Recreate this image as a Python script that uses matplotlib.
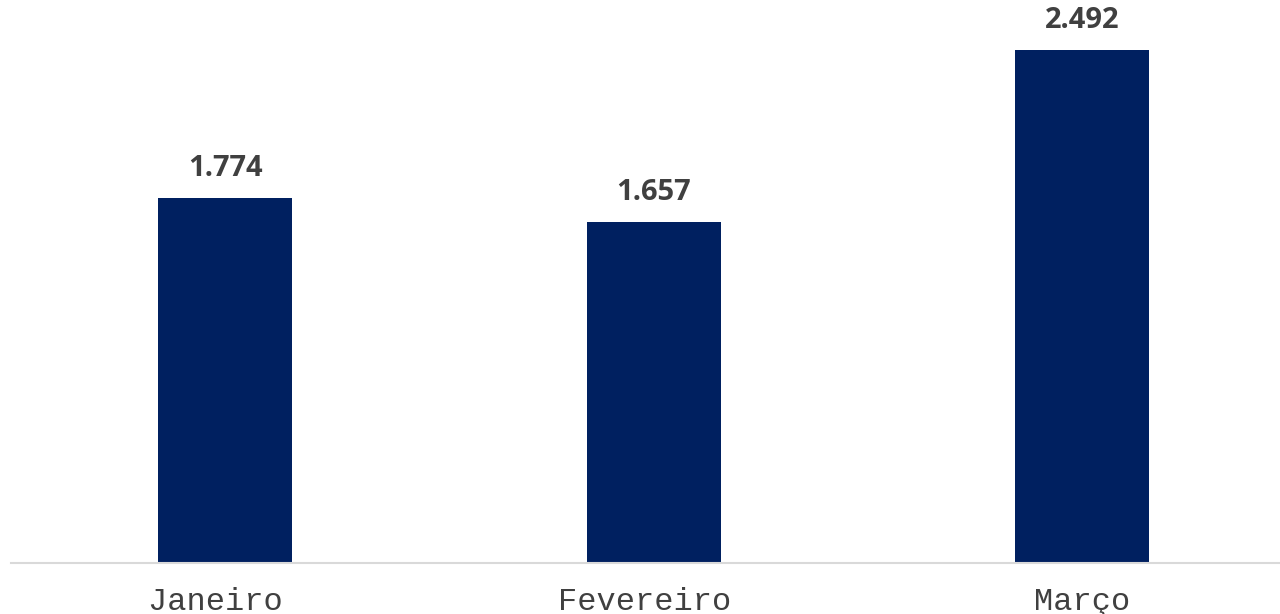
import matplotlib.pyplot as plt

# os dois primeiros rótulos têm um espaço no fim, como no original
meses = ["Janeiro ", "Fevereiro ", "Março"]
valores = [1.774, 1.657, 2.492]
rotulos = ["1.774", "1.657", "2.492"]

fig = plt.figure(figsize=(12.8, 6.14), dpi=100)
ax = fig.add_axes([11/1280, 51/614, 1285.5/1280, 563/614])

x = range(len(meses))
bars = ax.bar(x, valores, width=0.313, color="#002060", zorder=2)
ax.set_xlim(-0.5, 2.5)
ax.set_ylim(0, 563/205.9)

for b, r in zip(bars, rotulos):
    ax.annotate(r, (b.get_x() + b.get_width()/2, b.get_height()),
                xytext=(0, 10.5), textcoords="offset points",
                ha="center", va="bottom", fontsize=21, fontweight="bold",
                color="#404040", family="Open Sans")

ax.set_xticks(list(x))
ax.set_xticklabels(meses, family="Liberation Mono", fontsize=23, color="#404040")
ax.tick_params(axis="x", length=0, pad=17)
ax.set_yticks([])
for s in ["top", "right", "left"]:
    ax.spines[s].set_visible(False)
ax.spines["bottom"].set_color("#d9d9d9")
ax.spines["bottom"].set_linewidth(1.5)

fig.savefig("out.png", dpi=100)
